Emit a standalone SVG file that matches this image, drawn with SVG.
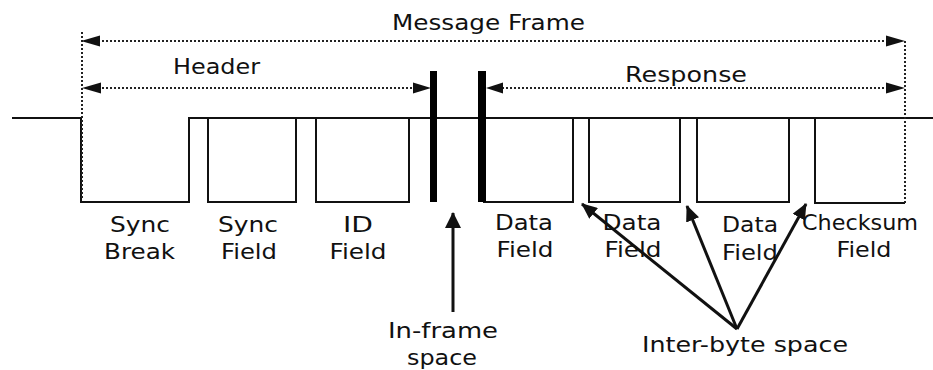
<svg xmlns="http://www.w3.org/2000/svg" width="933" height="370" viewBox="0 0 933 370">
  <defs>
    <style>
      .lbl { font-family: "DejaVu Sans", Verdana, sans-serif; font-size: 22px; fill: #111; text-anchor: middle; }
      .wave { fill: none; stroke: #111; stroke-width: 2; }
      .dot { fill: none; stroke: #222; stroke-width: 2; stroke-dasharray: 2 2; }
      .arr { fill: none; stroke: #111; stroke-width: 3; }
      .head { fill: #111; }
      .bar { fill: #000; }
    </style>
    <marker id="tip" viewBox="0 0 16 14" refX="15" refY="7" markerWidth="16" markerHeight="14" markerUnits="userSpaceOnUse" orient="auto">
      <path d="M0,0 L16,7 L0,14 Z" class="head"/>
    </marker>
    <marker id="tip-lg" viewBox="0 0 16 16" refX="15" refY="8" markerWidth="16" markerHeight="16" markerUnits="userSpaceOnUse" orient="auto">
      <path d="M0,0 L16,8 L0,16 Z" class="head"/>
    </marker>
  </defs>

  <rect width="933" height="370" fill="#fff"/>

  <!-- bus waveform: idle high line with one low pulse per byte -->
  <g id="waveform">
    <path class="wave" d="M12,118 H81 V202 H189 V118 H933"/>
    <path class="wave" d="M208,118 V202 H296 V118"/>
    <path class="wave" d="M316,118 V202 H409 V118"/>
    <path class="wave" d="M483,202 H573 V118"/>
    <path class="wave" d="M589,118 V202 H680 V118"/>
    <path class="wave" d="M697,118 V202 H789 V118"/>
    <path class="wave" d="M815,118 V203 H905"/>
  </g>

  <!-- header / response separators -->
  <g id="separators">
    <rect class="bar" x="430" y="71" width="7" height="131"/>
    <rect class="bar" x="478" y="71" width="8" height="131"/>
  </g>

  <!-- span markers -->
  <g id="spans">
    <line class="dot" x1="82" y1="32" x2="82" y2="200"/>
    <line class="dot" x1="905" y1="41" x2="905" y2="203"/>
    <line class="dot" x1="98" y1="41" x2="888" y2="41"/>
    <path class="head" d="M81,41 L100,35.5 L100,46.5 Z"/>
    <path class="head" d="M905,41 L886,35.5 L886,46.5 Z"/>
    <line class="dot" x1="98" y1="88" x2="416" y2="88"/>
    <path class="head" d="M82,88 L101,82.5 L101,93.5 Z"/>
    <path class="head" d="M431,88 L413,82.5 L413,93.5 Z"/>
    <line class="dot" x1="502" y1="88" x2="888" y2="88"/>
    <path class="head" d="M486,88 L503,82.5 L503,93.5 Z"/>
    <path class="head" d="M905,88 L886,82.5 L886,93.5 Z"/>
  </g>

  <g id="title-message-frame"><text class="lbl" x="488.5" y="30" textLength="193" lengthAdjust="spacingAndGlyphs">Message Frame</text></g>
  <g id="title-header"><text class="lbl" x="216.5" y="74" textLength="87" lengthAdjust="spacingAndGlyphs">Header</text></g>
  <g id="title-response"><text class="lbl" x="686" y="82" textLength="122" lengthAdjust="spacingAndGlyphs">Response</text></g>

  <!-- field labels -->
  <g id="sync-break">
    <text class="lbl" x="140" y="232" textLength="60" lengthAdjust="spacingAndGlyphs">Sync</text>
    <text class="lbl" x="139.5" y="259" textLength="71" lengthAdjust="spacingAndGlyphs">Break</text>
  </g>
  <g id="sync-field">
    <text class="lbl" x="248" y="232" textLength="60" lengthAdjust="spacingAndGlyphs">Sync</text>
    <text class="lbl" x="249" y="259" textLength="56" lengthAdjust="spacingAndGlyphs">Field</text>
  </g>
  <g id="id-field">
    <text class="lbl" x="358" y="232" textLength="30" lengthAdjust="spacingAndGlyphs">ID</text>
    <text class="lbl" x="358" y="259" textLength="57" lengthAdjust="spacingAndGlyphs">Field</text>
  </g>
  <g id="data-field-1">
    <text class="lbl" x="524" y="230" textLength="58" lengthAdjust="spacingAndGlyphs">Data</text>
    <text class="lbl" x="525" y="257" textLength="57" lengthAdjust="spacingAndGlyphs">Field</text>
  </g>
  <g id="data-field-2">
    <text class="lbl" x="632" y="230" textLength="59" lengthAdjust="spacingAndGlyphs">Data</text>
    <text class="lbl" x="633" y="257" textLength="57" lengthAdjust="spacingAndGlyphs">Field</text>
  </g>
  <g id="data-field-3">
    <text class="lbl" x="750" y="232" textLength="56" lengthAdjust="spacingAndGlyphs">Data</text>
    <text class="lbl" x="750" y="260" textLength="56" lengthAdjust="spacingAndGlyphs">Field</text>
  </g>
  <g id="checksum-field">
    <text class="lbl" x="860" y="230" textLength="116" lengthAdjust="spacingAndGlyphs">Checksum</text>
    <text class="lbl" x="864" y="257" textLength="55" lengthAdjust="spacingAndGlyphs">Field</text>
  </g>

  <!-- gap callouts -->
  <g id="connectors">
    <line class="arr" x1="453" y1="312" x2="453" y2="213" marker-end="url(#tip-lg)"/>
    <line class="arr" x1="737" y1="329" x2="582" y2="204" marker-end="url(#tip)"/>
    <line class="arr" x1="737" y1="329" x2="687" y2="206" marker-end="url(#tip)"/>
    <line class="arr" x1="737" y1="329" x2="806" y2="204" marker-end="url(#tip)"/>
  </g>
  <g id="in-frame-space">
    <text class="lbl" x="443" y="338" textLength="110" lengthAdjust="spacingAndGlyphs">In-frame</text>
    <text class="lbl" x="442" y="365" textLength="70" lengthAdjust="spacingAndGlyphs">space</text>
  </g>
  <g id="inter-byte-space">
    <text class="lbl" x="745" y="352" textLength="206" lengthAdjust="spacingAndGlyphs">Inter-byte space</text>
  </g>
</svg>
